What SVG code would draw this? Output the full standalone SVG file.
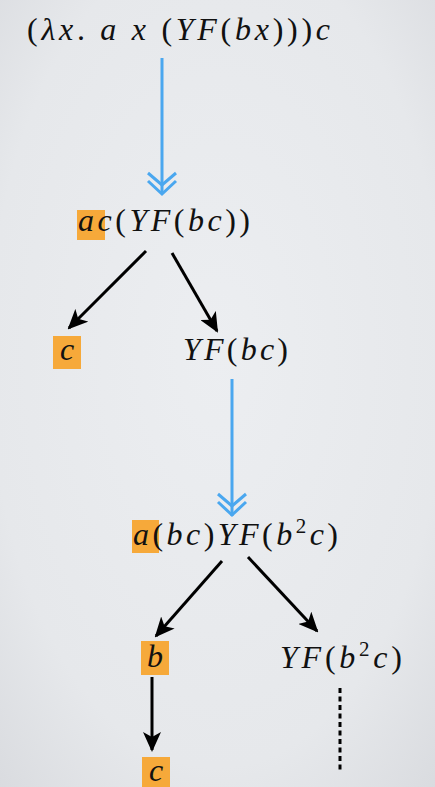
<svg xmlns="http://www.w3.org/2000/svg" width="435" height="787" viewBox="0 0 435 787">
  <defs>
    <radialGradient id="bg" cx="50%" cy="45%" r="75%">
      <stop offset="0" stop-color="#eceef1"/>
      <stop offset="0.7" stop-color="#e6e8eb"/>
      <stop offset="1" stop-color="#d9dbdf"/>
    </radialGradient>
    <marker id="ah" markerUnits="userSpaceOnUse" markerWidth="20" markerHeight="18" refX="18" refY="9" orient="auto">
      <path d="M0,0 L20,9 L0,18 L5,9 Z" fill="#000"/>
    </marker>
    <style>
      .hl { fill: #f6a93a; }
      .blk { stroke: #000; stroke-width: 3; fill: none; marker-end: url(#ah); }
      .blue { stroke: #4aa7ef; stroke-width: 3; fill: none; }
      .i { font-style: italic; }
    </style>
  </defs>
  <rect width="435" height="787" fill="url(#bg)"/>

  <g id="connectors">
    <g id="blue1">
      <line class="blue" x1="162" y1="58" x2="162" y2="194"/>
      <polyline class="blue" points="148,173 162,185 176,173"/>
      <polyline class="blue" points="148,181 162,194 176,181"/>
    </g>
    <line class="blk" x1="146" y1="251" x2="69" y2="328"/>
    <line class="blk" x1="172" y1="253" x2="217" y2="331"/>
    <g id="blue2">
      <line class="blue" x1="232" y1="379" x2="232" y2="516"/>
      <polyline class="blue" points="218,494 232,506 246,494"/>
      <polyline class="blue" points="218,502 232,515 246,502"/>
    </g>
    <line class="blk" x1="222" y1="561" x2="156" y2="636"/>
    <line class="blk" x1="248" y1="557" x2="317" y2="631"/>
    <line class="blk" x1="152" y1="677" x2="152" y2="750"/>
    <line x1="340" y1="688" x2="340" y2="773" stroke="#000" stroke-width="3" stroke-dasharray="5 3.5"/>
  </g>

  <g font-family="'Liberation Serif', 'DejaVu Serif', serif" font-size="32" fill="#111">
  <g id="n1">
    <text x="27" y="40" textLength="303" lengthAdjust="spacing">(<tspan class="i">λx</tspan>. <tspan class="i">a x</tspan> (<tspan class="i">YF</tspan>(<tspan class="i">bx</tspan>)))<tspan class="i">c</tspan></text>
  </g>

  <g id="n2">
    <rect class="hl" x="77" y="210" width="28" height="30"/>
    <text x="78" y="231" textLength="172" lengthAdjust="spacing"><tspan class="i">ac</tspan>(<tspan class="i">YF</tspan>(<tspan class="i">bc</tspan>))</text>
  </g>

  <g id="n3">
    <rect class="hl" x="53" y="336" width="28" height="33"/>
    <text class="i" x="67" y="360" text-anchor="middle">c</text>
  </g>

  <g id="n4">
    <text x="183" y="360" textLength="105" lengthAdjust="spacing"><tspan class="i">YF</tspan>(<tspan class="i">bc</tspan>)</text>
  </g>

  <g id="n5">
    <rect class="hl" x="132" y="520" width="27" height="33"/>
    <text x="133" y="545" textLength="205" lengthAdjust="spacing"><tspan class="i">a</tspan>(<tspan class="i">bc</tspan>)<tspan class="i">YF</tspan>(<tspan class="i">b</tspan><tspan font-size="21" dy="-12">2</tspan><tspan class="i" dy="12">c</tspan>)</text>
  </g>

  <g id="n6">
    <rect class="hl" x="141" y="641" width="28" height="34"/>
    <text class="i" x="155" y="667" text-anchor="middle">b</text>
  </g>

  <g id="n7">
    <text x="280" y="668" textLength="122" lengthAdjust="spacing"><tspan class="i">YF</tspan>(<tspan class="i">b</tspan><tspan font-size="21" dy="-12">2</tspan><tspan class="i" dy="12">c</tspan>)</text>
  </g>

  <g id="n8">
    <rect class="hl" x="142" y="757" width="28" height="30"/>
    <text class="i" x="156" y="781" text-anchor="middle">c</text>
  </g>
  </g>
</svg>
